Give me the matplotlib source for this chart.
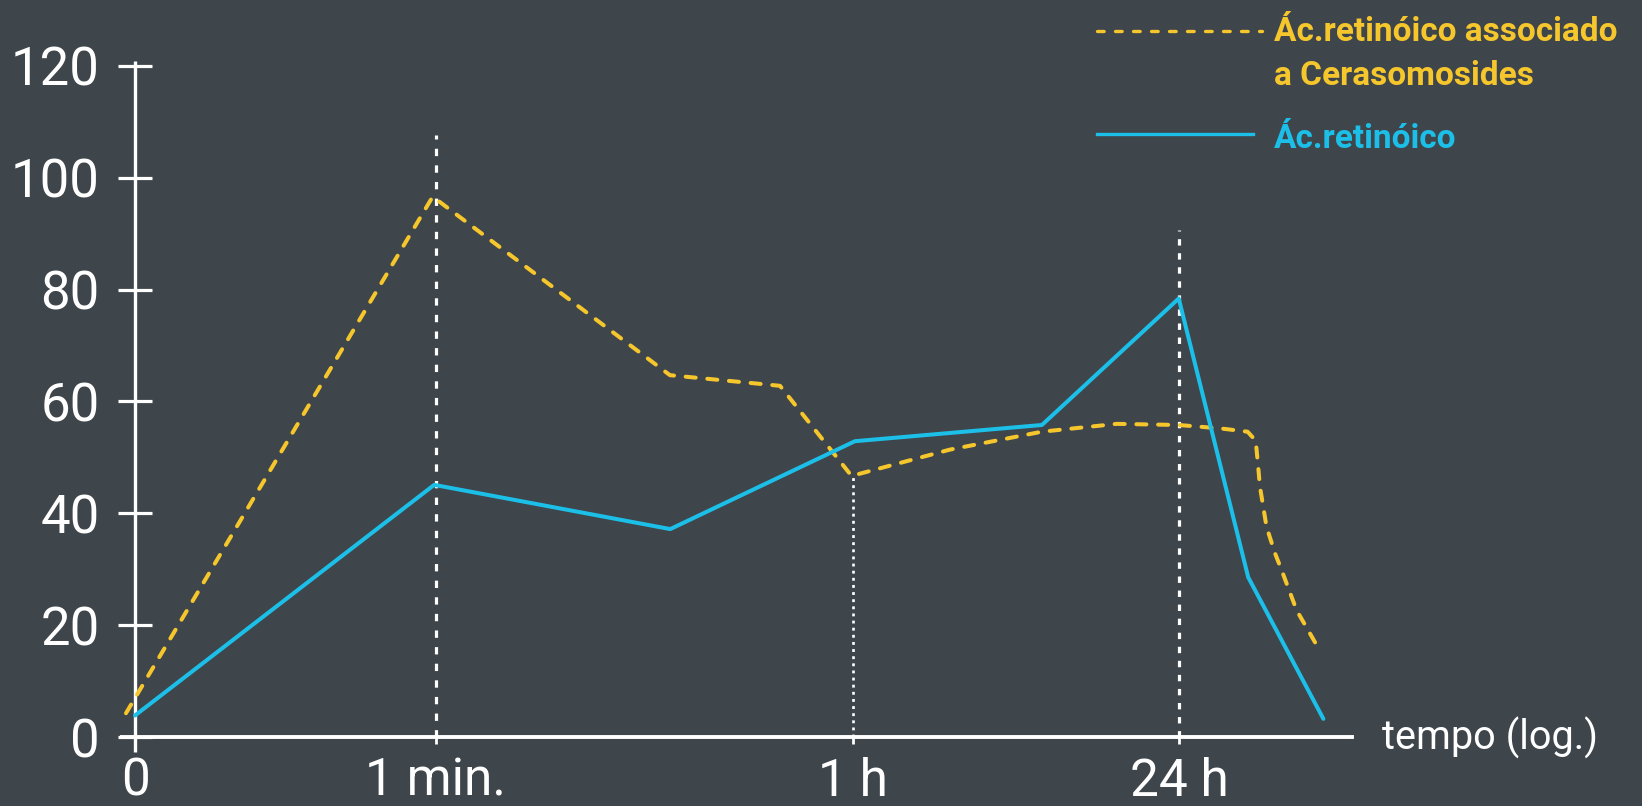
import matplotlib
matplotlib.use("Agg")
import matplotlib.pyplot as plt
from matplotlib.lines import Line2D

# ---------------- data ----------------
tick_pos = [0.0, 1.0, 2.389, 3.472]
tick_labels = ["0", "1 min.", "1 h", "24 h"]
y_ticks = [0, 20, 40, 60, 80, 100, 120]

blue_x = [0.0, 0.995, 1.78, 2.394, 3.016, 3.471, 3.702, 3.952]
blue_y = [3.9, 45.1, 37.2, 52.9, 55.8, 78.4, 28.6, 3.3]

yellow_x = [-0.03, 0.99, 1.779, 2.145, 2.383, 2.71, 3.016, 3.265, 3.47, 3.608,
            3.70, 3.727, 3.735, 3.741, 3.763, 3.791, 3.813, 3.863, 3.939]
yellow_y = [4.3, 96.6, 64.7, 62.8, 46.7, 51.4, 54.6, 56.0, 55.8, 55.2,
            54.6, 53.0, 48.5, 44.8, 37.6, 32.9, 29.9, 22.7, 15.6]

guide_x = [1.0, 2.389, 3.472]
guide_top = [107.7, 46.8, 90.7]

series_labels = ["Ác.retinóico associado", "a Cerasomosides", "Ác.retinóico"]
axis_label = "tempo (log.)"

# ---------------- style ----------------
BG = "#3e454b"
YEL = "#f6c62d"
BLU = "#1cbfe8"
W, H = 1642, 806
X0, XS = 135.0, 300.7      # pixel of x=0, pixels per x unit
Y0, YS = 737.3, 5.597      # pixel row (from top) of y=0, pixels per y unit

plt.rcParams["font.family"] = ["Roboto", "DejaVu Sans"]

fig = plt.figure(figsize=(W / 100, H / 100), dpi=100, facecolor=BG)
ax = fig.add_axes([0, 0, 1, 1], facecolor=BG)
ax.set_xlim(-X0 / XS, (W - X0) / XS)
ax.set_ylim((Y0 - H) / YS, Y0 / YS)

# guide lines
guide_styles = [(0, (2.3, 2.9)), (0, (1.1, 1.6)), (0, (2.0, 2.4))]
guide_lw = [2.3, 1.9, 2.3]
for gx, gt, ls, lw in zip(guide_x, guide_top, guide_styles, guide_lw):
    ax.vlines(gx, 0, gt, colors="white", linestyles=[ls], linewidth=lw, zorder=2)

# series
ax.plot(blue_x, blue_y, color=BLU, lw=2.9, solid_joinstyle="round",
        solid_capstyle="round", zorder=4)
ax.plot(yellow_x, yellow_y, color=YEL, lw=2.9, linestyle=(0, (2.5, 2.9)),
        dash_capstyle="round", dash_joinstyle="round", zorder=3)

# spines
for s in ["top", "right"]:
    ax.spines[s].set_visible(False)
ax.spines["left"].set_position(("data", 0))
ax.spines["bottom"].set_position(("data", 0))
ax.spines["left"].set_bounds(-2.7, 120.9)
ax.spines["bottom"].set_bounds(-0.043, 4.047)
ax.spines["left"].set_color("white")
ax.spines["bottom"].set_color("white")
ax.spines["left"].set_linewidth(2.4)
ax.spines["bottom"].set_linewidth(2.8)
ax.spines["left"].set_capstyle("butt")

ax.set_yticks(y_ticks)
ax.set_yticklabels([str(v) for v in y_ticks])
ax.set_xticks(tick_pos)
ax.set_xticklabels(tick_labels)
ax.tick_params(axis="y", direction="inout", length=25, width=2.3, colors="white",
               labelsize=38, pad=13)
ax.tick_params(axis="x", direction="out", length=5, width=2.0, colors="white",
               labelsize=37, pad=9)
for lab in ax.get_xticklabels() + ax.get_yticklabels():
    lab.set_fontweight("normal")

ax.text((1382 - X0) / XS, (Y0 - 750) / YS, axis_label, color="white",
        fontsize=28.5, fontweight="normal", ha="left", va="baseline")

# legend (manual, to keep handle aligned with first label line)
def fx(px):
    return px / W

def fy(py):
    return 1 - py / H

fig.add_artist(Line2D([fx(1097), fx(1262)], [fy(31), fy(31)], color=YEL, lw=2.4,
                      linestyle=(0, (2.0, 3.4)), dash_capstyle="round"))
fig.add_artist(Line2D([fx(1097), fx(1253)], [fy(134), fy(134)], color=BLU, lw=2.4))
fig.text(fx(1274), fy(41), series_labels[0], color=YEL, fontsize=24,
         fontweight="bold", ha="left", va="baseline")
fig.text(fx(1274), fy(85), series_labels[1], color=YEL, fontsize=24,
         fontweight="bold", ha="left", va="baseline")
fig.text(fx(1274), fy(148), series_labels[2], color=BLU, fontsize=24,
         fontweight="bold", ha="left", va="baseline")

fig.savefig("out.png", dpi=100, facecolor=BG)
